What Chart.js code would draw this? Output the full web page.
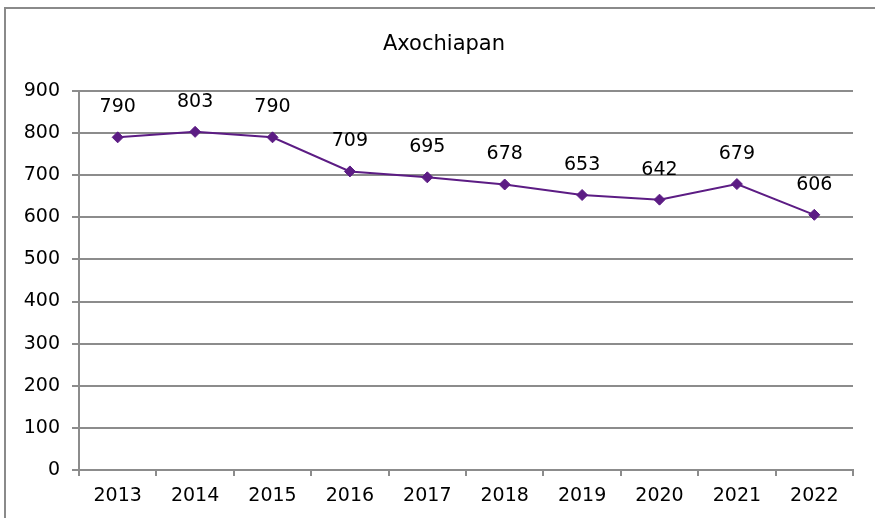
<!DOCTYPE html>
<html lang="es">
<head>
    <meta charset="UTF-8">
    <title>Axochiapan</title>
    <script src="https://cdn.jsdelivr.net/npm/chart.js"></script>
    <style>
        body {
            margin: 0;
            width: 875px;
            height: 518px;
            overflow: hidden;
            background-color: #fff;
        }
        .chart-container {
            position: absolute;
            left: 0;
            top: 0;
            width: 875px;
            height: 518px;
        }
        .marco {
            position: absolute;
            left: 4px;
            top: 7px;
            width: 900px;
            height: 600px;
            border-left: 2px solid #8a8a8a;
            border-top: 2px solid #8a8a8a;
            pointer-events: none;
        }
    </style>
</head>
<body>
    <div class="chart-container">
        <canvas id="grafica"></canvas>
    </div>
    <div class="marco"></div>

    <script>
        const anios = ['2013', '2014', '2015', '2016', '2017', '2018', '2019', '2020', '2021', '2022'];
        const valores = [790, 803, 790, 709, 695, 678, 653, 642, 679, 606];
        const titulo = 'Axochiapan';
        const ejeMax = 900;
        const paso = 100;

        const colorLinea = '#5c1c84';
        const colorGris = '#8c8c8c';
        const fuente = 'DejaVu Sans';

        // titulo y etiquetas encima de cada punto
        const etiquetasDatos = {
            id: 'etiquetasDatos',
            afterDatasetsDraw(chart) {
                const ctx = chart.ctx;
                const meta = chart.getDatasetMeta(0);
                ctx.save();
                ctx.fillStyle = '#000';
                ctx.textAlign = 'center';
                ctx.textBaseline = 'middle';
                ctx.font = '21px "' + fuente + '"';
                ctx.fillText(titulo, 444, 45);
                ctx.font = '19px "' + fuente + '"';
                meta.data.forEach((punto, i) => {
                    ctx.fillText(String(valores[i]), punto.x, punto.y - 30);
                });
                ctx.restore();
            }
        };

        const ctx = document.getElementById('grafica').getContext('2d');
        new Chart(ctx, {
            type: 'line',
            data: {
                labels: anios,
                datasets: [{
                    label: titulo,
                    data: valores,
                    borderColor: colorLinea,
                    backgroundColor: colorLinea,
                    borderWidth: 2,
                    pointStyle: 'rectRot',
                    pointRadius: 5.5,
                    pointBorderWidth: 1,
                    tension: 0
                }]
            },
            options: {
                responsive: true,
                maintainAspectRatio: false,
                animation: false,
                layout: {
                    padding: { left: 0, right: 22, top: 91, bottom: 0 }
                },
                scales: {
                    x: {
                        offset: true,
                        afterFit: function(scale) { scale.height = 48; },
                        grid: {
                            offset: true,
                            drawOnChartArea: false,
                            drawTicks: true,
                            tickLength: 6,
                            color: colorGris,
                            lineWidth: 2
                        },
                        border: { display: true, color: colorGris, width: 2 },
                        ticks: {
                            color: '#000',
                            padding: 9,
                            maxRotation: 0,
                            font: { family: fuente, size: 19 }
                        }
                    },
                    y: {
                        min: 0,
                        max: ejeMax,
                        afterFit: function(scale) { scale.width = 79; },
                        grid: {
                            color: colorGris,
                            lineWidth: 2,
                            drawTicks: true,
                            tickLength: 7
                        },
                        border: { display: true, color: colorGris, width: 2 },
                        ticks: {
                            stepSize: paso,
                            color: '#000',
                            padding: 12,
                            font: { family: fuente, size: 19 }
                        }
                    }
                },
                plugins: {
                    legend: { display: false },
                    tooltip: { enabled: false },
                    title: { display: false }
                }
            },
            plugins: [etiquetasDatos]
        });
    </script>
</body>
</html>
